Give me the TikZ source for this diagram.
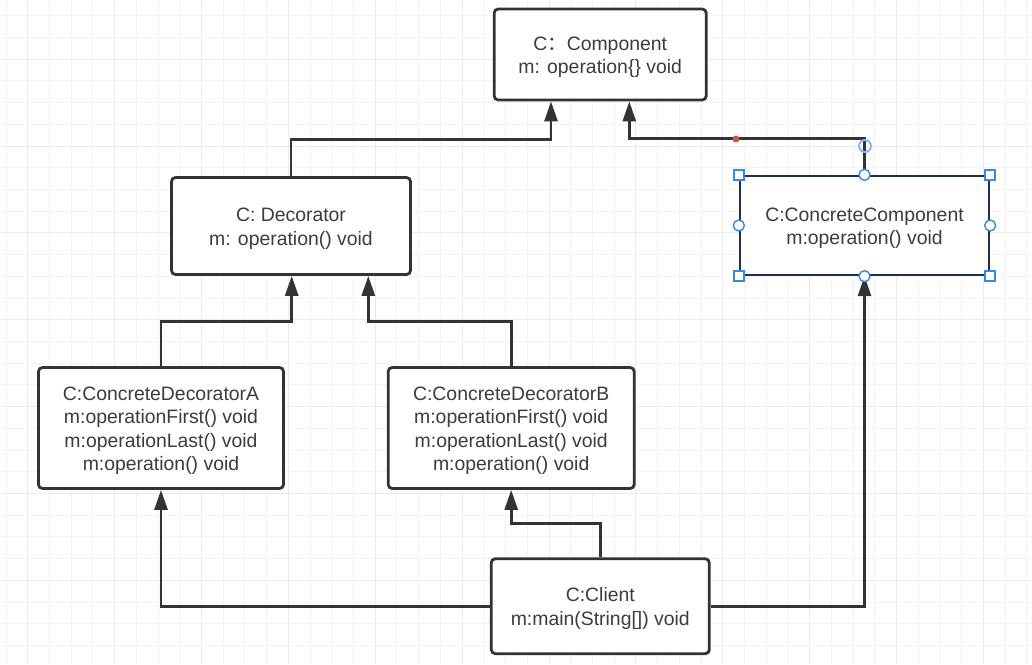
\documentclass[tikz,border=0pt]{standalone}
\usepackage{fontspec}
\setmainfont{Liberation Sans}
\newfontfamily\cjk{Noto Sans CJK SC}
\usetikzlibrary{arrows.meta,calc}
\definecolor{ink}{HTML}{333333}
\definecolor{txt}{HTML}{3C3C3C}
\definecolor{gridminor}{HTML}{F3F3F3}
\definecolor{gridmajor}{HTML}{EBEBEB}
\definecolor{selblue}{HTML}{3C86E6}
\definecolor{navy}{HTML}{1F2F4F}
\definecolor{hoverblue}{HTML}{8AB6F2}
\definecolor{reddot}{HTML}{D0524E}
\newcommand{\tfix}{\rule{0pt}{19pt}}
\begin{document}
\begin{tikzpicture}[x=1pt,y=-1pt,
  classbox/.style={draw=ink, line width=2.8pt, rounded corners=4pt, fill=white,
    align=center, text=txt, font=\fontsize{19.4}{23.5}\selectfont, inner sep=0pt},
  selbox/.style={classbox, draw=navy, line width=2.3pt, sharp corners},
  conn/.style={draw=ink, line width=2.8pt, -{Triangle[length=20pt,width=13pt]}},
  gminor/.style={draw=gridminor, line width=1pt},
  gmajor/.style={draw=gridmajor, line width=1pt},
  selsq/.style={draw=selblue, fill=white, line width=1.4pt},
  selcirc/.style={draw=selblue, fill=white, line width=1.4pt}]
\useasboundingbox (0,0) rectangle (1032,664);
\fill[white] (0,0) rectangle (1032,664);
% grid
\begin{scope}
\clip (0,0) rectangle (1032,664);
\foreach \k in {0,...,47} {
  \pgfmathsetmacro{\xx}{6+21.72*\k}
  \pgfmathtruncatemacro{\mm}{mod(\k,4)}
  \ifnum\mm=1 \draw[gmajor] (\xx,0) -- (\xx,664); \else \draw[gminor] (\xx,0) -- (\xx,664); \fi
}
\foreach \k in {0,...,29} {
  \pgfmathsetmacro{\yy}{15.7+21.72*\k}
  \pgfmathtruncatemacro{\mm}{mod(\k,4)}
  \ifnum\mm=2 \draw[gmajor] (0,\yy) -- (1032,\yy); \else \draw[gminor] (0,\yy) -- (1032,\yy); \fi
}
\end{scope}
% classes
\node[classbox, minimum width=212pt, minimum height=91pt] (comp) at (600.2,54.5)
  {\tfix C{\cjk ：}Component\\m: operation\{\} void};
\node[classbox, minimum width=239pt, minimum height=97pt] (dec) at (291,226)
  {\tfix C: Decorator\\m: operation() void};
\node[selbox, minimum width=249pt, minimum height=99pt] (cc) at (864.5,225.5)
  {\tfix C:ConcreteComponent\\m:operation() void};
\node[classbox, minimum width=245pt, minimum height=121pt] (cda) at (161,428)
  {\tfix C:ConcreteDecoratorA\\m:operationFirst() void\\m:operationLast() void\\m:operation() void};
\node[classbox, minimum width=246pt, minimum height=121pt] (cdb) at (511.2,428)
  {\tfix C:ConcreteDecoratorB\\m:operationFirst() void\\m:operationLast() void\\m:operation() void};
\node[classbox, minimum width=218pt, minimum height=95pt] (client) at (600.3,606.2)
  {\tfix C:Client\\m:main(String[]) void};
% connectors
\draw[conn] (dec.north) -- ++(0,-36.7) -| ($(comp.south)+(-49.2,0)$);
\draw[conn] (cc.north) -- ++(0,-36) -| ($(comp.south)+(29.1,0)$);
\draw[conn] (cda.north) -- ++(0,-44.3) -| ($(dec.south)+(0.7,0)$);
\draw[conn] (cdb.north) -- ++(0,-44.3) -| ($(dec.south)+(77.3,0)$);
\draw[conn] (client.north) -- ++(0,-34) -| (cdb.south);
\draw[conn] ($(client.west)+(0,0.5)$) -| (cda.south);
\draw[conn] ($(client.east)+(0,0.5)$) -| (cc.south);
% editor selection marks
\fill[reddot] (736,139) circle (3.5);
\draw[hoverblue, line width=2pt] (865,146) circle (6);
\foreach \a in {north west, north east, south west, south east}
  \draw[selsq] ($(cc.\a)+(-5,-5)$) rectangle ++(10,10);
\foreach \a in {north, south, east, west}
  \draw[selcirc] (cc.\a) circle (5.5);
\end{tikzpicture}
\end{document}
